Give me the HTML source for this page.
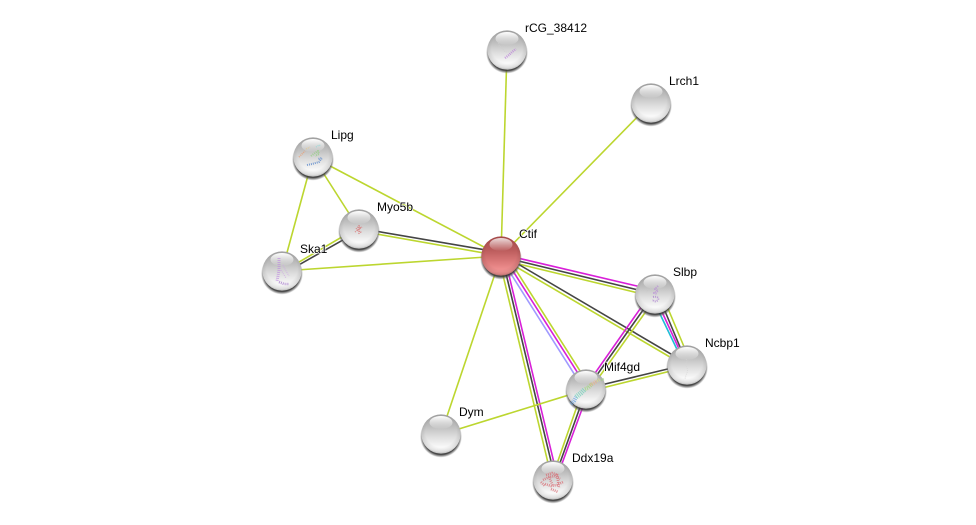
<!DOCTYPE html>
<html>
<head>
<meta charset="utf-8">
<style>
html,body{margin:0;padding:0;background:#fff;width:976px;height:525px;overflow:hidden}
svg{display:block}
text{font-family:"Liberation Sans",Arial,sans-serif;font-size:12px;fill:#000;paint-order:stroke;stroke:#fff;stroke-width:1.5px;stroke-linejoin:round}
.l{stroke:#bcd62f}.d{stroke:#454545}.m{stroke:#d81fd8}.b{stroke:#a09aff}.c{stroke:#1fbcd6}
line{stroke-width:1.6;fill:none}
.s path{fill:none;stroke-linecap:butt;stroke-linejoin:round;stroke-dasharray:1 1;opacity:.7}
</style>
</head>
<body>
<svg width="976" height="525" viewBox="0 0 976 525" xmlns="http://www.w3.org/2000/svg">
<defs>
<linearGradient id="g" x1="0" y1="0" x2="0" y2="1">
<stop offset="0" stop-color="#a2a2a2"/><stop offset=".3" stop-color="#bdbdbd"/><stop offset=".55" stop-color="#dcdcdc"/><stop offset=".85" stop-color="#fbfbfb"/><stop offset="1" stop-color="#f4f4f4"/>
</linearGradient>
<linearGradient id="r" x1="0" y1="0" x2="0" y2="1">
<stop offset="0" stop-color="#a84a4a"/><stop offset=".35" stop-color="#bb5c5c"/><stop offset=".65" stop-color="#dc7a7a"/><stop offset=".9" stop-color="#f59696"/><stop offset="1" stop-color="#ee8c8c"/>
</linearGradient>
<radialGradient id="e" cx="50%" cy="44%" r="56%">
<stop offset=".7" stop-color="#000" stop-opacity="0"/><stop offset=".92" stop-color="#000" stop-opacity=".1"/><stop offset="1" stop-color="#000" stop-opacity=".24"/>
</radialGradient>
<linearGradient id="h" x1="0" y1="0" x2="0" y2="1">
<stop offset="0" stop-color="#fff" stop-opacity="1"/><stop offset=".9" stop-color="#fff" stop-opacity=".12"/><stop offset="1" stop-color="#fff" stop-opacity="0"/>
</linearGradient>
<radialGradient id="sh" cx="50%" cy="50%" r="50%">
<stop offset=".86" stop-color="#333" stop-opacity=".9"/><stop offset=".94" stop-color="#666" stop-opacity=".5"/><stop offset="1" stop-color="#999" stop-opacity="0"/>
</radialGradient>
<g id="sphere">
<circle cx="0" cy="2.6" r="21" fill="url(#sh)"/>
<circle r="19.6" fill="url(#g)"/>
<circle r="19.6" fill="url(#e)"/>
<ellipse cx="0" cy="-11.5" rx="11.5" ry="6.5" fill="url(#h)"/>
</g>
<g id="red">
<circle cx="0" cy="2.6" r="21" fill="url(#sh)"/>
<circle r="19.6" fill="url(#r)"/>
<circle r="19.6" fill="url(#e)"/>
<ellipse cx="0" cy="-11.5" rx="11.5" ry="6.5" fill="url(#h)" opacity=".8"/>
</g>
</defs>

<!-- single edges -->
<line class="l" x1="507" y1="50" x2="501" y2="256"/>
<line class="l" x1="651" y1="103" x2="501" y2="256"/>
<line class="l" x1="313" y1="157" x2="501" y2="256"/>
<line class="l" x1="282" y1="271" x2="501" y2="256"/>
<line class="l" x1="441" y1="434" x2="501" y2="256"/>
<line class="l" x1="313" y1="157" x2="359" y2="229"/>
<line class="l" x1="313" y1="157" x2="282" y2="271"/>

<!-- Myo5b - Ctif -->
<line class="d" x1="359" y1="228.3" x2="501" y2="252.6"/>
<line class="l" x1="359" y1="230.9" x2="501" y2="256"/>
<!-- Myo5b - Ska1 -->
<line class="l" x1="282" y1="272" x2="359" y2="227"/>
<line class="d" x1="282" y1="274.4" x2="359" y2="230.9"/>
<!-- Ctif - Slbp -->
<line class="m" x1="501" y1="254.1" x2="655" y2="290.3"/>
<line class="d" x1="501" y1="256.7" x2="655" y2="294"/>
<line class="l" x1="501" y1="259.7" x2="655" y2="297"/>
<!-- Ctif - Ncbp1 -->
<line class="d" x1="501" y1="254" x2="687" y2="363.5"/>
<line class="l" x1="501" y1="258" x2="687" y2="367"/>
<!-- Ctif - Mif4gd -->
<line class="b" x1="499.6" y1="256" x2="583.7" y2="389"/>
<line class="m" x1="503.4" y1="256" x2="588" y2="389"/>
<line class="l" x1="507" y1="256" x2="591.5" y2="389"/>
<!-- Ctif - Ddx19a -->
<line class="l" x1="498.4" y1="256" x2="552.1" y2="480"/>
<line class="d" x1="501.8" y1="256" x2="555.5" y2="480"/>
<line class="m" x1="504.4" y1="256" x2="558.1" y2="480"/>
<!-- Mif4gd - Ddx19a -->
<line class="l" x1="583" y1="389" x2="551.3" y2="480"/>
<line class="d" x1="586.6" y1="389" x2="553.8" y2="480"/>
<line class="m" x1="589.4" y1="389" x2="556" y2="480"/>
<!-- Slbp - Mif4gd -->
<line class="m" x1="650.5" y1="294" x2="583.9" y2="389"/>
<line class="d" x1="654.4" y1="294" x2="587" y2="389"/>
<line class="l" x1="658.4" y1="294" x2="590.6" y2="389"/>
<!-- Slbp - Ncbp1 -->
<line class="c" x1="650.4" y1="294" x2="684.5" y2="365"/>
<line class="m" x1="653.8" y1="294" x2="686.4" y2="365"/>
<line class="d" x1="657.8" y1="294" x2="687.6" y2="365"/>
<line class="l" x1="661.9" y1="294" x2="691.7" y2="365"/>
<!-- Ncbp1 - Mif4gd -->
<line class="d" x1="586" y1="388.6" x2="687" y2="364.4"/>
<line class="l" x1="586" y1="392" x2="687" y2="367"/>
<!-- Mif4gd - Dym -->
<line class="l" x1="441" y1="434.5" x2="586" y2="389.7"/>

<!-- nodes -->
<use href="#sphere" x="507" y="50"/>
<use href="#sphere" x="651" y="103"/>
<use href="#sphere" x="313" y="157"/>
<use href="#sphere" x="359" y="229"/>
<use href="#sphere" x="282" y="271"/>
<use href="#sphere" x="655" y="294"/>
<use href="#sphere" x="687" y="365"/>
<use href="#sphere" x="586" y="389"/>
<use href="#sphere" x="441" y="434"/>
<use href="#sphere" x="553" y="480"/>
<use href="#red" x="501" y="256"/>

<!-- protein structures -->
<g class="s">
<path d="M498 41l1 4 3 3 3 4 4 0" stroke="#cfcfcf" stroke-width="1"/>
<path d="M505 58l4-3 3-3 4-3" stroke="#b87ad8" stroke-width="2.4"/>
<path d="M299 157l3-3 3-3" stroke="#ee9a6a" stroke-width="1.6"/>
<path d="M306 149l4-2" stroke="#e8c878" stroke-width="1.2"/>
<path d="M311 156l4-3 3-2 1 3-4 2" stroke="#8ed07a" stroke-width="2"/>
<path d="M316 147l3-2 2 1" stroke="#8edada" stroke-width="1.4"/>
<path d="M307 165l5-1 7-2 3-4-4 1" stroke="#4a7ec8" stroke-width="2"/>
<path d="M356 229l3-3 2 2-4 2 4 2-3 2M359 225l0 9M355 232l7-5" stroke="#d86a6a" stroke-width="1.3"/>
<path d="M279 258l0 6 0 6-1 6-1 5" stroke="#c08ee0" stroke-width="3"/>
<path d="M283 265l3 6 3 5M281 270l5 8" stroke="#cfa8e4" stroke-width="1.2"/>
<path d="M279 282l5 2 5 0" stroke="#a070c8" stroke-width="2.6"/>
<path d="M658 286l-3 3 3 2-4 2 3 1" stroke="#b888d8" stroke-width="2"/>
<path d="M653 297c4-1 6 1 5 3-2 2-5 2-5-1" stroke="#a878d0" stroke-width="2"/>
<path d="M651 288l-5 4" stroke="#c8c8c8" stroke-width="1"/>
<path d="M686 359c3 2-2 4 0 7s2 5 0 9l-1 4" stroke="#d4d4d4" stroke-width="1"/>
<path d="M571 404l3-3 2-4" stroke="#5f9fe4" stroke-width="4"/>
<path d="M576 397l5-4 4-4" stroke="#68d0b8" stroke-width="5"/>
<path d="M585 389l3-1 4-4" stroke="#98d878" stroke-width="4"/>
<path d="M590 385l4-2 3-2" stroke="#eeb080" stroke-width="3.4"/>
<path d="M597 381l3-2" stroke="#e2e284" stroke-width="2.8"/>
<path d="M601 380l3-1" stroke="#9ad878" stroke-width="2.6"/>
<path d="M543 480l6-3 6-1 5 3M546 475l6-2 6 2M545 484l6 2 6-1 6-3M551 489l7 3M549 477l4 9M557 474l2 14M541 482l4 4" stroke="#d9646c" stroke-width="2.6"/>
</g>

<!-- labels -->
<text x="519" y="238">Ctif</text>
<text x="525" y="32">rCG_38412</text>
<text x="669" y="85">Lrch1</text>
<text x="331" y="139">Lipg</text>
<text x="377" y="211">Myo5b</text>
<text x="300" y="253">Ska1</text>
<text x="673" y="276">Slbp</text>
<text x="705" y="347">Ncbp1</text>
<text x="604" y="371">Mif4gd</text>
<text x="459" y="416">Dym</text>
<text x="572" y="462">Ddx19a</text>
</svg>
</body>
</html>
